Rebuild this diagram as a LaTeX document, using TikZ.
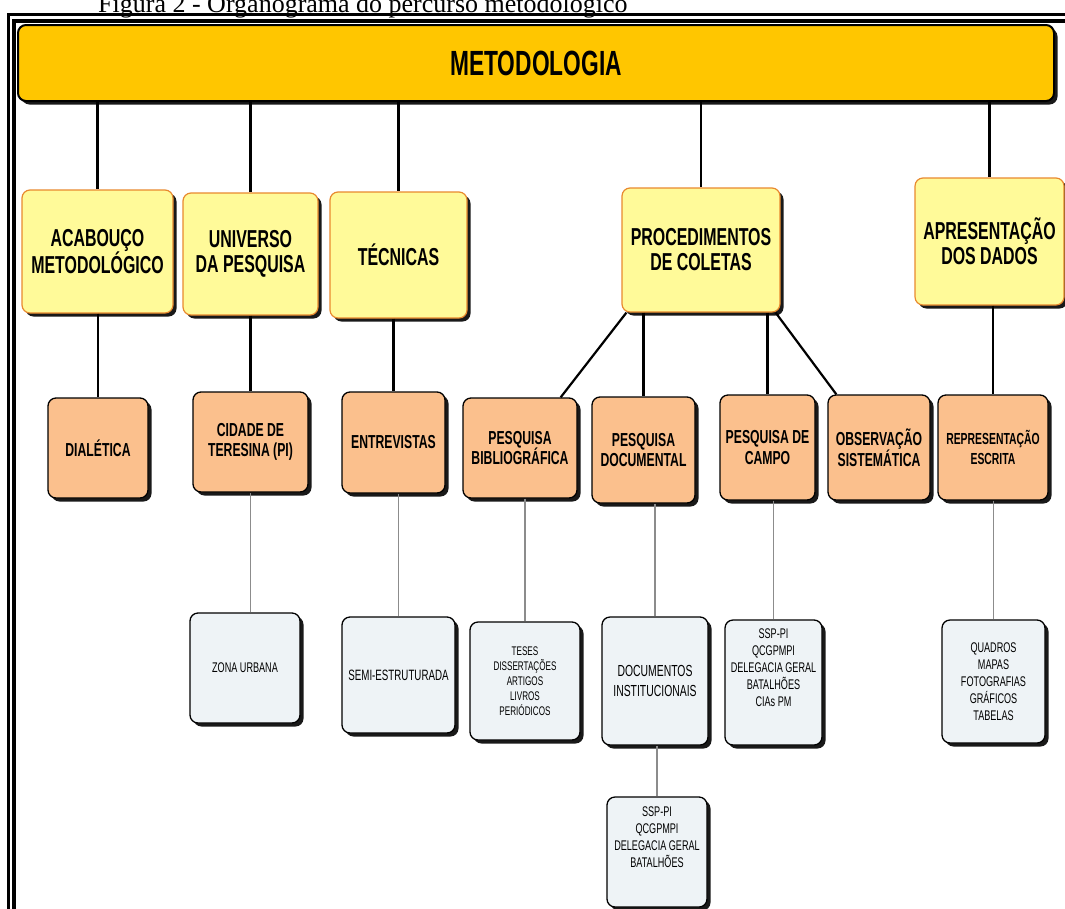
\documentclass[tikz,border=0pt]{standalone}
\usepackage{fontspec}
\setmainfont{Liberation Sans}[FakeStretch=0.65]
\newfontfamily\capfont{Liberation Serif}
\usetikzlibrary{shadows}

\definecolor{barfill}{HTML}{FFC600}
\definecolor{stagefill}{HTML}{FFFA99}
\definecolor{stageline}{HTML}{E8892E}
\definecolor{itemfill}{HTML}{FBC08D}
\definecolor{detailfill}{HTML}{EEF3F6}
\definecolor{sublinkgray}{HTML}{8C8C8C}

\begin{document}
\begin{tikzpicture}[
  x=1pt, y=-1pt,
  shade/.style={drop shadow={shadow xshift=3.5pt, shadow yshift=-3.5pt, fill=black, opacity=0.9}},
  topbar/.style={rectangle, draw, line width=2pt, rounded corners=8pt, fill=barfill, shade, inner sep=0pt, font=\fontsize{35}{38}\selectfont\bfseries},
  stage/.style={rectangle, draw=stageline, line width=1.2pt, rounded corners=8pt, fill=stagefill, shade, align=center, inner sep=0pt, font=\fontsize{24.5}{25}\selectfont\bfseries},
  item/.style={rectangle, draw, line width=1.3pt, rounded corners=8pt, fill=itemfill, shade, align=center, inner sep=0pt, font=\fontsize{18.8}{20.5}\selectfont\bfseries},
  detail/.style={rectangle, draw, line width=1.3pt, rounded corners=8pt, fill=detailfill, shade, align=center, inner sep=0pt, font=\fontsize{14}{17}\selectfont},
  link/.style={line width=2.2pt},
  sublink/.style={line width=1.2pt, sublinkgray}
]
\useasboundingbox (0,0) rectangle (1065,908);

% Caption and page frame
\node[anchor=base west, inner sep=0pt] (caption) at (98,12.5) {\capfont\fontsize{26}{30}\selectfont Figura 2 - Organograma do percurso metodológico};
\draw[line width=2.7pt] (8.5,14.7) rectangle (1095,935);
\draw[line width=4pt] (14,20.5) rectangle (1090,930);

% Top bar
\node[topbar, minimum width=1036pt, minimum height=76pt] (meto) at (536,63) {METODOLOGIA};

% Level 1
\node[stage, minimum width=151pt, minimum height=123pt] (acab) at (97.5,251.5) {ACABOUÇO\\METODOLÓGICO};
\node[stage, minimum width=135pt, minimum height=122pt] (univ) at (250.5,254) {UNIVERSO\\DA PESQUISA};
\node[stage, minimum width=137pt, minimum height=126pt] (tecn) at (398.5,255) {TÉCNICAS};
\node[stage, minimum width=158pt, minimum height=124pt] (proc) at (701,250) {PROCEDIMENTOS\\DE COLETAS};
\node[stage, minimum width=149pt, minimum height=127pt] (apres) at (989.5,241.5) {APRESENTAÇÃO\\DOS DADOS};

% Level 2
\node[item, minimum width=100pt, minimum height=100pt] (dial) at (98,448) {DIALÉTICA};
\node[item, minimum width=115pt, minimum height=100pt] (cid) at (250.5,442) {CIDADE DE\\TERESINA (PI)};
\node[item, minimum width=103pt, minimum height=101pt] (entr) at (393.5,442.5) {ENTREVISTAS};
\node[item, minimum width=114pt, minimum height=100pt] (bibl) at (520,448) {PESQUISA\\BIBLIOGRÁFICA};
\node[item, minimum width=103pt, minimum height=106pt] (docm) at (643.5,450) {PESQUISA\\DOCUMENTAL};
\node[item, minimum width=95pt, minimum height=105pt] (camp) at (767.5,447.5) {PESQUISA DE\\CAMPO};
\node[item, minimum width=102pt, minimum height=105pt] (obs) at (879,447.5) {OBSERVAÇÃO\\SISTEMÁTICA};
\node[item, minimum width=110pt, minimum height=105pt, font=\fontsize{16}{20}\selectfont\bfseries] (repr) at (993,447.5) {REPRESENTAÇÃO\\ESCRITA};

% Level 3
\node[detail, minimum width=110pt, minimum height=110pt] (zona) at (245,668) {ZONA URBANA};
\node[detail, minimum width=113pt, minimum height=116pt, font=\fontsize{15}{18}\selectfont] (semi) at (398.5,675) {SEMI-ESTRUTURADA};
\node[detail, minimum width=110pt, minimum height=118pt, font=\fontsize{12.5}{15}\selectfont] (teses) at (525,681) {TESES\\DISSERTAÇÕES\\ARTIGOS\\LIVROS\\PERIÓDICOS};
\node[detail, minimum width=106pt, minimum height=128pt, font=\fontsize{16}{20}\selectfont] (docs) at (655,681) {DOCUMENTOS\\INSTITUCIONAIS};
\node[detail, minimum width=97pt, minimum height=125pt] (sspc) at (773.5,682.5) {SSP-PI\\QCGPMPI\\DELEGACIA GERAL\\BATALHÕES\\CIAs PM\\[12pt]};
\node[detail, minimum width=103pt, minimum height=123pt] (quad) at (993.5,681.5) {QUADROS\\MAPAS\\FOTOGRAFIAS\\GRÁFICOS\\TABELAS};
\node[detail, minimum width=100pt, minimum height=110pt] (sspd) at (657,852) {SSP-PI\\QCGPMPI\\DELEGACIA GERAL\\BATALHÕES\\[12pt]};

% Connectors from the top bar
\draw[link] (acab.north |- meto.south) -- (acab.north);
\draw[link] (univ.north |- meto.south) -- (univ.north);
\draw[link] (tecn.north |- meto.south) -- (tecn.north);
\draw[link] (proc.north |- meto.south) -- (proc.north);
\draw[link] (apres.north |- meto.south) -- (apres.north);

% Level 1 to level 2
\draw[link] (dial.north |- acab.south) -- (dial.north);
\draw[link] (cid.north |- univ.south) -- (cid.north);
\draw[link] (entr.north |- tecn.south) -- (entr.north);
\draw[link] ([xshift=5pt]proc.south west) -- ([xshift=-17pt]bibl.north east);
\draw[link] (docm.north |- proc.south) -- (docm.north);
\draw[link] (camp.north |- proc.south) -- (camp.north);
\draw[link] ([xshift=-5pt]proc.south east) -- ([xshift=9pt]obs.north west);
\draw[link] (repr.north |- apres.south) -- (repr.north);

% Level 2 to level 3
\draw[sublink] (zona.north -| cid.south) -- (cid.south);
\draw[sublink] (semi.north |- entr.south) -- (semi.north);
\draw[sublink] (teses.north |- bibl.south) -- (teses.north);
\draw[sublink] (docs.north |- docm.south) -- (docs.north);
\draw[sublink] (sspc.north |- camp.south) -- (sspc.north);
\draw[sublink] (quad.north |- repr.south) -- (quad.north);
\draw[sublink] (sspd.north |- docs.south) -- (sspd.north);

\end{tikzpicture}
\end{document}
